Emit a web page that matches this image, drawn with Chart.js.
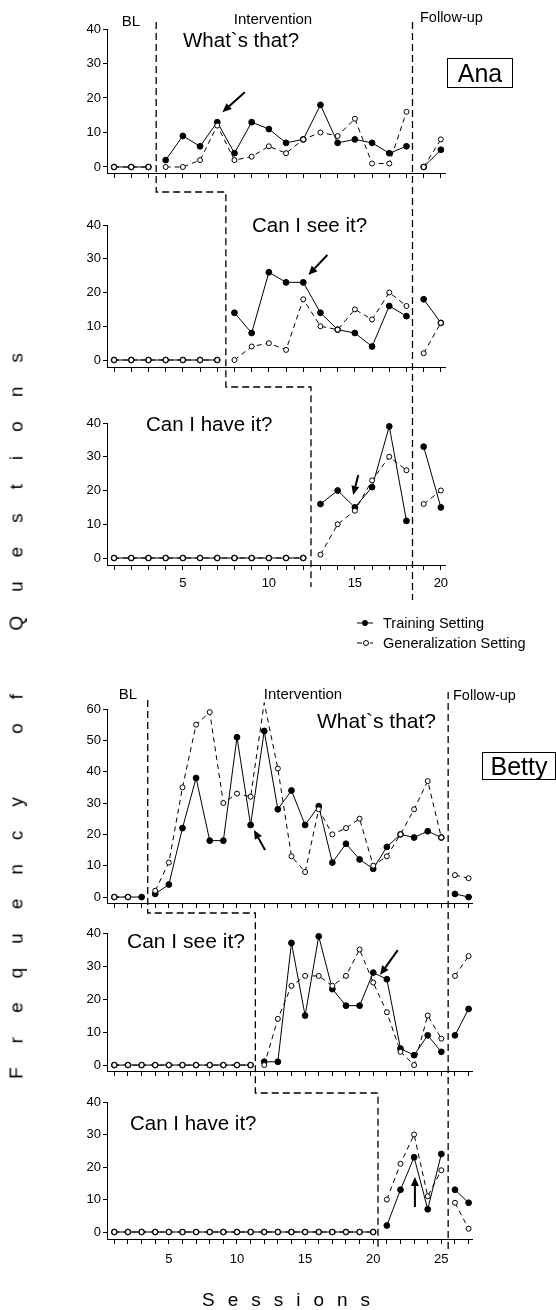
<!DOCTYPE html>
<html>
<head>
<meta charset="utf-8">
<script src="https://cdn.jsdelivr.net/npm/chart.js@4.4.1/dist/chart.umd.min.js"></script>
<style>
  body { margin: 0; width: 556px; height: 1310px; position: relative; overflow: hidden; background: #fff;
         font-family: "Liberation Sans", Arial, sans-serif; color: #000; }
  .panel { position: absolute; left: 0; width: 556px; }
  .txt { position: absolute; white-space: pre; line-height: 1; }
  .namebox { position: absolute; border: 1px solid #000; box-sizing: border-box; text-align: center; }
  #overlay { position: absolute; left: 0; top: 0; pointer-events: none; }
</style>
</head>
<body>
<script>
// ---- data ----
const anaSessions = [1,2,3,4,5,6,7,8,9,10,11,12,13,14,15,16,17,18,19,20];
const bettySessions = [1,2,3,4,5,6,7,8,9,10,11,12,13,14,15,16,17,18,19,20,21,22,23,24,25,26,27];

const anaWhatTraining = [0,0,0, 2,9,6,13,4,13,11,7,8,18,7,8,7,4,6, 0,5];
const anaWhatGeneral  = [0,0,0, 0,0,2,12,2,3,6,4,8,10,9,14,1,1,16, 0,8];
const anaSeeTraining  = [0,0,0,0,0,0,0, 14,8,26,23,23,14,9,8,4,16,13, 18,11];
const anaSeeGeneral   = [0,0,0,0,0,0,0, 0,4,5,3,18,10,9,15,12,20,16, 2,11];
const anaHaveTraining = [0,0,0,0,0,0,0,0,0,0,0,0, 16,20,15,21,39,11, 33,15];
const anaHaveGeneral  = [0,0,0,0,0,0,0,0,0,0,0,0, 1,10,14,23,30,26, 16,20];

const bettyWhatTraining = [0,0,0, 1,4,22,38,18,18,51,23,53,28,34,23,29,11,17,12,9,16,20,19,21,19, 1,0];
const bettyWhatGeneral  = [0,0,null, 2,11,35,55,59,30,33,32,62,41,13,8,28,20,22,25,10,13,20,28,37,19, 7,6];
const bettySeeTraining  = [0,0,0,0,0,0,0,0,0,0,0, 1,1,37,15,39,23,18,18,28,26,5,3,9,4, 9,17];
const bettySeeGeneral   = [0,0,0,0,0,0,0,0,0,0,0, 0,14,24,27,27,24,27,35,25,16,4,0,15,8, 27,33];
const bettyHaveTraining = [0,0,0,0,0,0,0,0,0,0,0,0,0,0,0,0,0,0,0,0, 2,13,23,7,24, 13,9];
const bettyHaveGeneral  = [0,0,0,0,0,0,0,0,0,0,0,0,0,0,0,0,0,0,0,0, 10,21,30,11,19, 9,1];

// phase change lines (between sessions)
const anaWhatPhases = [3.45, 18.35];
const anaSeePhases  = [7.5, 18.35];
const anaHavePhases = [12.45, 18.35];
const bettyWhatPhases = [3.45, 25.5];
const bettySeePhases  = [11.35, 25.5];
const bettyHavePhases = [20.35, 25.5];

const yTicks40 = [0,5,10,15,20,25,30,35,40];
const yTicks60 = [0,5,10,15,20,25,30,35,40,45,50,55,60];
const anaXLabels = [5,10,15,20];
const bettyXLabels = [5,10,15,20,25];

// ---- layout ----
const PAD_TOP = 10, X_AXIS_H = 24, Y_AXIS_W = 40, AXIS_LEFT = 107;
const FONT = "'Liberation Sans', Arial, sans-serif";

const panels = [
  { id: 'anaWhat', sessions: anaSessions, training: anaWhatTraining, general: anaWhatGeneral, phases: anaWhatPhases,
    yTicks: yTicks40, xLabels: [], top: 29, bottom: 173, yMin: -1.74, yMax: 40, xMin: 0.59, xMax: 20.24, right: 445, xPad: 6 },
  { id: 'anaSee', sessions: anaSessions, training: anaSeeTraining, general: anaSeeGeneral, phases: anaSeePhases,
    yTicks: yTicks40, xLabels: [], top: 225, bottom: 367, yMin: -2.07, yMax: 40, xMin: 0.59, xMax: 20.24, right: 445, xPad: 6 },
  { id: 'anaHave', sessions: anaSessions, training: anaHaveTraining, general: anaHaveGeneral, phases: anaHavePhases,
    yTicks: yTicks40, xLabels: anaXLabels, top: 423, bottom: 565, yMin: -2.07, yMax: 40, xMin: 0.59, xMax: 20.24, right: 445, xPad: 6 },
  { id: 'bettyWhat', sessions: bettySessions, training: bettyWhatTraining, general: bettyWhatGeneral, phases: bettyWhatPhases,
    yTicks: yTicks60, xLabels: [], top: 709, bottom: 903, yMin: -1.9, yMax: 60, xMin: 0.46, xMax: 27.25, right: 472, xPad: 8 },
  { id: 'bettySee', sessions: bettySessions, training: bettySeeTraining, general: bettySeeGeneral, phases: bettySeePhases,
    yTicks: yTicks40, xLabels: [], top: 933, bottom: 1071, yMin: -1.8, yMax: 40, xMin: 0.46, xMax: 27.25, right: 472, xPad: 8 },
  { id: 'bettyHave', sessions: bettySessions, training: bettyHaveTraining, general: bettyHaveGeneral, phases: bettyHavePhases,
    yTicks: yTicks40, xLabels: bettyXLabels, top: 1102, bottom: 1239, yMin: -2.15, yMax: 40, xMin: 0.46, xMax: 27.25, right: 472, xPad: 8 }
];

function seriesData(sessions, values) {
  return sessions.map((s, i) => ({ x: s, y: values[i] }));
}
function crossesPhase(phases, a, b) {
  return phases.some(p => a < p && b > p);
}

function makePanel(p) {
  const div = document.createElement('div');
  div.className = 'panel';
  const top = p.top - PAD_TOP;
  div.style.top = top + 'px';
  div.style.height = (p.bottom - p.top + PAD_TOP + X_AXIS_H) + 'px';
  const canvas = document.createElement('canvas');
  div.appendChild(canvas);
  document.body.appendChild(div);

  const segColor = ctx => crossesPhase(p.phases, p.sessions[ctx.p0DataIndex], p.sessions[ctx.p1DataIndex]) ? 'rgba(0,0,0,0)' : '#000';

  const chart = new Chart(canvas, {
    type: 'line',
    data: {
      datasets: [
        { label: 'Generalization Setting', data: seriesData(p.sessions, p.general),
          borderColor: '#000', borderWidth: 1, borderDash: [5, 4], tension: 0, spanGaps: false, clip: false,
          pointRadius: 2.5, pointBorderWidth: 1, pointBackgroundColor: '#fff', pointBorderColor: '#000',
          segment: { borderColor: segColor } },
        { label: 'Training Setting', data: seriesData(p.sessions, p.training),
          borderColor: '#000', borderWidth: 1, tension: 0, spanGaps: false, clip: false,
          pointRadius: 2.9, pointBorderWidth: 1, pointBackgroundColor: '#000', pointBorderColor: '#000',
          segment: { borderColor: segColor } }
      ]
    },
    options: {
      animation: false, responsive: true, maintainAspectRatio: false, devicePixelRatio: 1, events: [],
      layout: { padding: { left: AXIS_LEFT - Y_AXIS_W, right: 556 - p.right, top: PAD_TOP, bottom: 0 } },
      plugins: { legend: { display: false }, tooltip: { enabled: false } },
      scales: {
        x: {
          type: 'linear', min: p.xMin, max: p.xMax, bounds: 'data',
          afterBuildTicks: s => { s.ticks = p.sessions.map(v => ({ value: v })); },
          afterFit: s => { s.height = X_AXIS_H; },
          grid: { drawOnChartArea: false, drawTicks: true, tickLength: 5, tickColor: '#000', color: '#000' },
          border: { color: '#000', width: 1 },
          ticks: { autoSkip: false, maxRotation: 0, padding: p.xPad, color: '#000', font: { family: FONT, size: 13 },
                   callback: v => p.xLabels.includes(v) ? String(v) : '' }
        },
        y: {
          type: 'linear', min: p.yMin, max: p.yMax, bounds: 'data',
          afterBuildTicks: s => { s.ticks = p.yTicks.map(v => ({ value: v })); },
          afterFit: s => { s.width = Y_AXIS_W; },
          grid: { drawOnChartArea: false, drawTicks: true, tickLength: 4, tickColor: '#000', color: '#000' },
          border: { color: '#000', width: 1 },
          ticks: { padding: 2, color: '#000', font: { family: FONT, size: 13 },
                   callback: v => v % 10 === 0 ? String(v) : '' }
        }
      }
    }
  });
  chart.pageTop = top;
  return chart;
}

const charts = {};
panels.forEach(p => { charts[p.id] = makePanel(p); });

// ---- overlay: phase lines, arrows, legend symbols ----
const ov = document.createElement('canvas');
ov.id = 'overlay';
ov.width = 556; ov.height = 1310;
document.body.appendChild(ov);
const g = ov.getContext('2d');

const px = (c, v) => c.scales.x.getPixelForValue(v);
const py = (c, v) => c.pageTop + c.scales.y.getPixelForValue(v);
const axisY = c => c.pageTop + c.chartArea.bottom;

function staircase(list, top, gaps, endGap) {
  g.beginPath();
  let x = px(list[0].c, list[0].b);
  g.moveTo(x, top);
  list.forEach((item, i) => {
    x = px(item.c, item.b);
    if (i > 0) g.lineTo(x, axisY(list[i - 1].c) + gaps[i - 1]);
    const yEnd = i < list.length - 1 ? axisY(item.c) + gaps[i] : axisY(item.c) + endGap;
    g.lineTo(x, yEnd);
  });
  g.stroke();
}

g.strokeStyle = '#000';
g.lineWidth = 1.3;
g.setLineDash([7, 4]);
staircase([
  { c: charts.anaWhat, b: anaWhatPhases[0] },
  { c: charts.anaSee, b: anaSeePhases[0] },
  { c: charts.anaHave, b: anaHavePhases[0] }
], 22, [19, 20], 22);
staircase([
  { c: charts.bettyWhat, b: bettyWhatPhases[0] },
  { c: charts.bettySee, b: bettySeePhases[0] },
  { c: charts.bettyHave, b: bettyHavePhases[0] }
], 700, [10, 22], 10);
// follow-up lines
g.beginPath();
g.moveTo(px(charts.anaWhat, anaWhatPhases[1]), 22);
g.lineTo(px(charts.anaWhat, anaWhatPhases[1]), axisY(charts.anaHave) + 35);
g.moveTo(px(charts.bettyWhat, bettyWhatPhases[1]), 692);
g.lineTo(px(charts.bettyWhat, bettyWhatPhases[1]), axisY(charts.bettyHave) + 10);
g.stroke();
g.setLineDash([]);

// arrows (data coordinates of the panel they sit in)
const arrows = [
  { panel: 'anaWhat', from: [8.6, 21.7], to: [7.3, 15.9] },
  { panel: 'anaSee', from: [13.4, 31.1], to: [12.3, 25.2] },
  { panel: 'anaHave', from: [15.2, 24.6], to: [14.9, 18.7] },
  { panel: 'bettyWhat', from: [12.06, 15], to: [11.25, 21.4] },
  { panel: 'bettySee', from: [21.8, 34.8], to: [20.5, 27.3] },
  { panel: 'bettyHave', from: [23.06, 7.7], to: [23.06, 16.9] }
];
arrows.forEach(a => {
  const c = charts[a.panel];
  const x1 = px(c, a.from[0]), y1 = py(c, a.from[1]);
  const x2 = px(c, a.to[0]), y2 = py(c, a.to[1]);
  const ang = Math.atan2(y2 - y1, x2 - x1);
  const hl = 9, hw = 4;
  const bx = x2 - hl * Math.cos(ang), by = y2 - hl * Math.sin(ang);
  g.lineWidth = 2;
  g.beginPath(); g.moveTo(x1, y1); g.lineTo(bx, by); g.stroke();
  g.beginPath();
  g.moveTo(x2, y2);
  g.lineTo(bx + hw * Math.sin(ang), by - hw * Math.cos(ang));
  g.lineTo(bx - hw * Math.sin(ang), by + hw * Math.cos(ang));
  g.closePath(); g.fillStyle = '#000'; g.fill();
});

// legend symbols
g.lineWidth = 1;
g.beginPath(); g.moveTo(357, 623); g.lineTo(373, 623); g.stroke();
g.beginPath(); g.arc(365, 623, 2.9, 0, Math.PI * 2); g.fill();
g.beginPath(); g.moveTo(357, 643); g.lineTo(362, 643); g.moveTo(370, 643); g.lineTo(373, 643); g.stroke();
g.beginPath(); g.arc(366, 643, 2.5, 0, Math.PI * 2); g.fillStyle = '#fff'; g.fill(); g.stroke();

// ---- text ----
const texts = [
  { t: 'BL', x: 131, cy: 20, fs: 15, center: true },
  { t: 'Intervention', x: 273, cy: 18, fs: 15, center: true },
  { t: 'Follow-up', x: 420, cy: 17, fs: 14.5 },
  { t: 'What`s that?', x: 183, cy: 40.5, fs: 20.5 },
  { t: 'Can I see it?', x: 252, cy: 225.5, fs: 20.5 },
  { t: 'Can I have it?', x: 146, cy: 424.5, fs: 20.5 },
  { t: 'Training Setting', x: 383, cy: 623, fs: 14.5 },
  { t: 'Generalization Setting', x: 383, cy: 643, fs: 14.5 },
  { t: 'BL', x: 128, cy: 693, fs: 15, center: true },
  { t: 'Intervention', x: 303, cy: 693, fs: 15, center: true },
  { t: 'Follow-up', x: 453, cy: 695, fs: 14.5 },
  { t: 'What`s that?', x: 317, cy: 720, fs: 21 },
  { t: 'Can I see it?', x: 127, cy: 940, fs: 21 },
  { t: 'Can I have it?', x: 130, cy: 1123, fs: 20.5 }
];
texts.forEach(o => {
  const d = document.createElement('div');
  d.className = 'txt';
  d.textContent = o.t;
  d.style.fontSize = o.fs + 'px';
  d.style.left = o.x + 'px';
  d.style.top = (o.cy - o.fs * 0.5) + 'px';
  if (o.center) d.style.transform = 'translateX(-50%)';
  document.body.appendChild(d);
});

const boxes = [
  { t: 'Ana', left: 447, top: 58, w: 66, h: 30, fs: 25 },
  { t: 'Betty', left: 482, top: 752, w: 74, h: 28, fs: 25 }
];
boxes.forEach(b => {
  const d = document.createElement('div');
  d.className = 'namebox';
  d.textContent = b.t;
  Object.assign(d.style, { left: b.left + 'px', top: b.top + 'px', width: b.w + 'px', height: b.h + 'px',
                           fontSize: b.fs + 'px', lineHeight: (b.h - 2) + 'px' });
  document.body.appendChild(d);
});

// axis titles
const yTitle = document.createElement('div');
yTitle.className = 'txt';
yTitle.textContent = 'Frequency of Questions';
Object.assign(yTitle.style, { left: '16px', top: '704px', fontSize: '19px', letterSpacing: '24px', wordSpacing: '10px',
                              transform: 'translate(-50%, -50%) rotate(-90deg)' });
document.body.appendChild(yTitle);

const xTitle = document.createElement('div');
xTitle.className = 'txt';
xTitle.textContent = 'Sessions';
Object.assign(xTitle.style, { left: '202px', top: '1290px', fontSize: '19px', letterSpacing: '13px' });
document.body.appendChild(xTitle);
</script>
</body>
</html>
